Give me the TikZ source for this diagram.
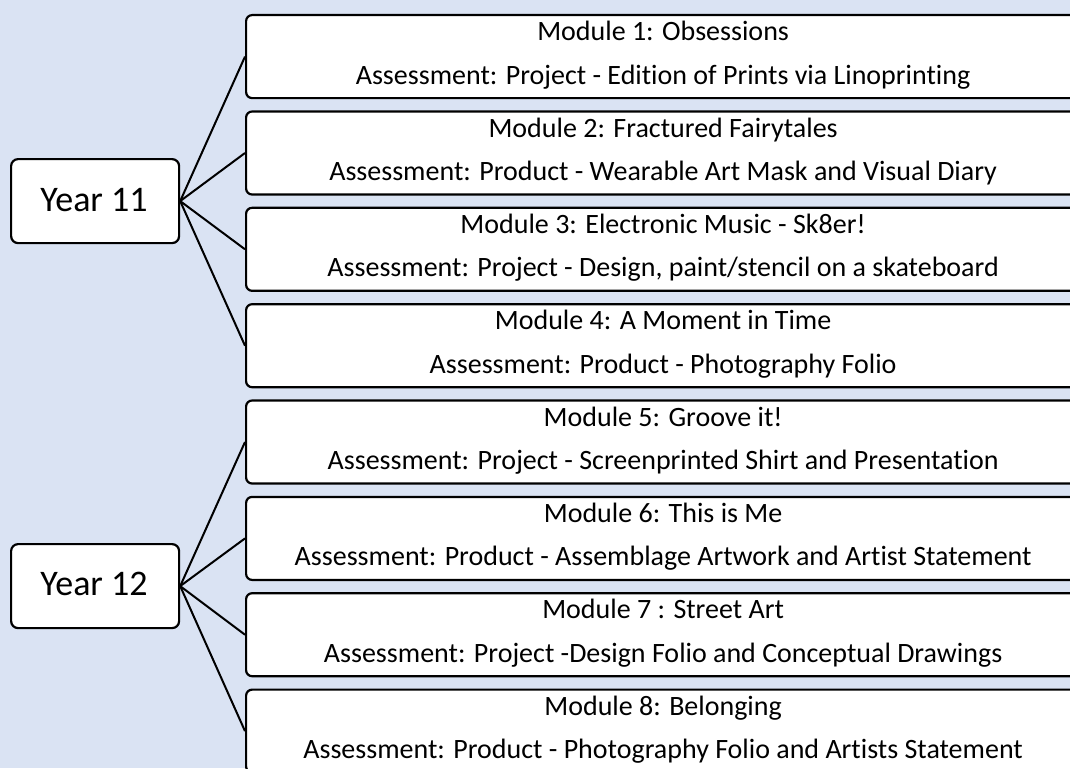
\documentclass[tikz,border=0pt]{standalone}
\usepackage{fontspec}
\setmainfont{Carlito}[Ligatures=NoCommon]
\definecolor{bg}{RGB}{218,227,243}
\begin{document}
\begin{tikzpicture}[x=1pt,y=-1pt,
  modbox/.style={draw=black,line width=2.2pt,fill=white,rounded corners=6pt,
    minimum width=834pt,minimum height=83pt,inner sep=0pt,anchor=north west},
  yearbox/.style={draw=black,line width=2.2pt,fill=white,rounded corners=7pt,
    minimum width=168pt,minimum height=84pt,inner sep=0pt,anchor=north west},
  modtxt/.style={anchor=base,inner sep=0pt,font=\fontsize{28pt}{32pt}\selectfont},
  yeartxt/.style={anchor=base,inner sep=0pt,font=\fontsize{36pt}{42pt}\selectfont},
  link/.style={draw=black,line width=2pt}]
\useasboundingbox (0,0) rectangle (1070,768);
\clip (0,0) rectangle (1070,768);
\fill[bg] (0,0) rectangle (1070,768);

% year boxes
\node[yearbox] (y11) at (10,158) {};
\node[yeartxt] (y11t) at (94,211) {Year 11};
\node[yearbox] (y12) at (10,543) {};
\node[yeartxt] (y12t) at (94,595) {Year 12};

% module boxes
\node[modbox] (m1) at (245,14) {};
\node[modbox] (m2) at (245,110.4) {};
\node[modbox] (m3) at (245,206.7) {};
\node[modbox] (m4) at (245,303.1) {};
\node[modbox] (m5) at (245,399.4) {};
\node[modbox] (m6) at (245,495.8) {};
\node[modbox] (m7) at (245,592.1) {};
\node[modbox] (m8) at (245,688.5) {};

\node[modtxt] (t1a) at ([yshift=-26.7pt]m1.north) {Module 1: Obsessions};
\node[modtxt] (t1b) at ([yshift=-70pt]m1.north) {Assessment: Project - Edition of Prints via Linoprinting};
\node[modtxt] (t2a) at ([yshift=-26.7pt]m2.north) {Module 2: Fractured Fairytales};
\node[modtxt] (t2b) at ([yshift=-70pt]m2.north) {Assessment: Product - Wearable Art Mask and Visual Diary};
\node[modtxt] (t3a) at ([yshift=-26.7pt]m3.north) {Module 3: Electronic Music - Sk8er!};
\node[modtxt] (t3b) at ([yshift=-70pt]m3.north) {Assessment: Project - Design, paint/stencil on a skateboard};
\node[modtxt] (t4a) at ([yshift=-26.7pt]m4.north) {Module 4: A Moment in Time};
\node[modtxt] (t4b) at ([yshift=-70pt]m4.north) {Assessment: Product - Photography Folio};
\node[modtxt] (t5a) at ([yshift=-26.7pt]m5.north) {Module 5: Groove it!};
\node[modtxt] (t5b) at ([yshift=-70pt]m5.north) {Assessment: Project - Screenprinted Shirt and Presentation};
\node[modtxt] (t6a) at ([yshift=-26.7pt]m6.north) {Module 6: This is Me};
\node[modtxt] (t6b) at ([yshift=-70pt]m6.north) {Assessment: Product - Assemblage Artwork and Artist Statement};
\node[modtxt] (t7a) at ([yshift=-26.7pt]m7.north) {Module 7 : Street Art};
\node[modtxt] (t7b) at ([yshift=-70pt]m7.north) {Assessment: Project -Design Folio and Conceptual Drawings};
\node[modtxt] (t8a) at ([yshift=-26.7pt]m8.north) {Module 8: Belonging};
\node[modtxt] (t8b) at ([yshift=-70pt]m8.north) {Assessment: Product - Photography Folio and Artists Statement};

% connectors
\foreach \m in {m1,m2,m3,m4} \draw[link] (y11.east) -- (\m.west);
\foreach \m in {m5,m6,m7,m8} \draw[link] (y12.east) -- (\m.west);
\end{tikzpicture}
\end{document}
